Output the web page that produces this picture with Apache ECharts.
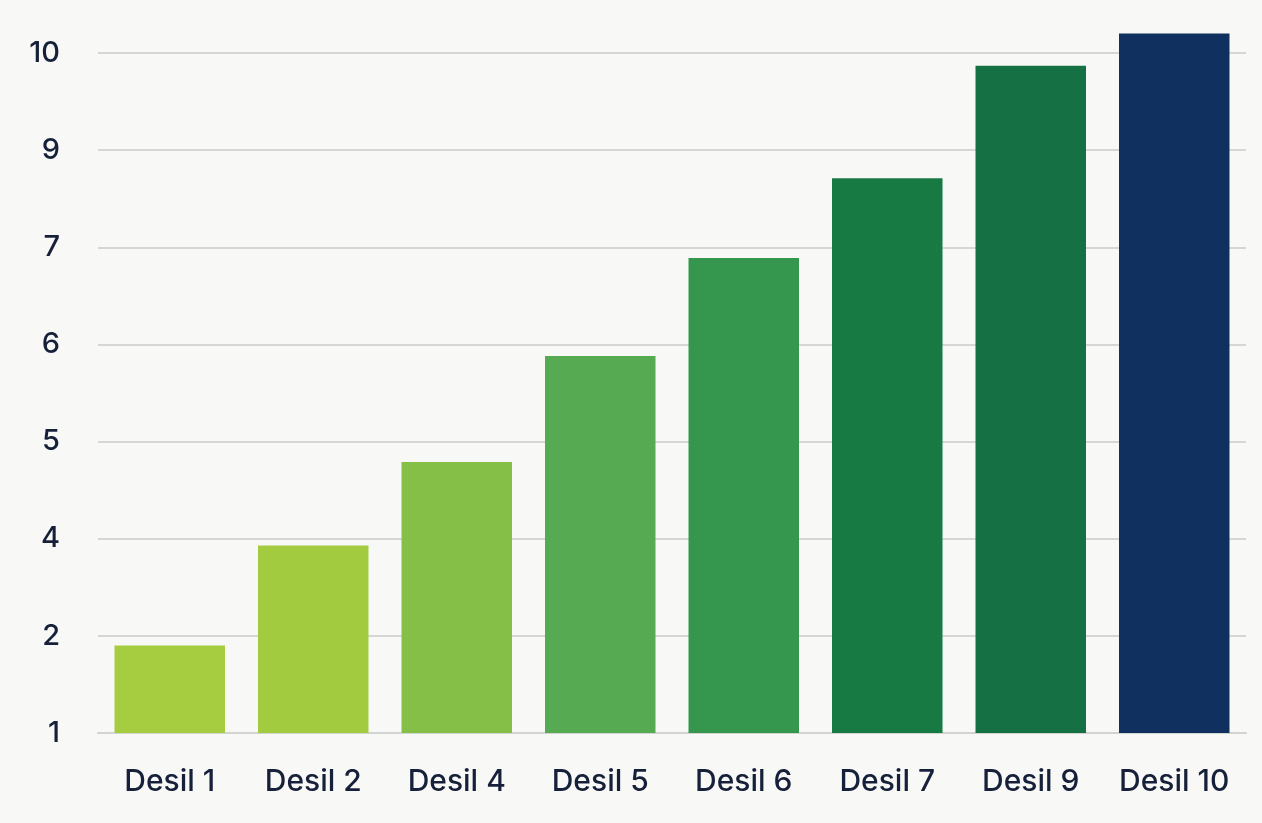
<!DOCTYPE html>
<html>
<head>
<meta charset="utf-8">
<script src="https://cdn.jsdelivr.net/npm/echarts@6/dist/echarts.min.js"></script>
<style>
html,body{margin:0;padding:0;background:#f8f9f6;}
#chart{width:1262px;height:823px;}
</style>
</head>
<body>
<div id="chart"></div>
<script>
// Categories on the x axis
const categories = ['Desil 1', 'Desil 2', 'Desil 4', 'Desil 5', 'Desil 6', 'Desil 7', 'Desil 9', 'Desil 10'];
// Y-axis tick labels as printed (evenly spaced gridlines)
const yTickLabels = ['1', '2', '4', '5', '6', '7', '9', '10'];
// Bar heights, measured in gridline steps above the baseline
const barLevels = [0.90, 1.93, 2.79, 3.88, 4.89, 5.71, 6.87, 7.20];
// Bar colours
const barColors = ['#a6cd40', '#a3cb40', '#86bf48', '#55aa52', '#35974e', '#177a42', '#157044', '#10305f'];

const chart = echarts.init(document.getElementById('chart'));
chart.setOption({
  backgroundColor: '#f8f9f6',
  animation: false,
  grid: { left: 98, right: 16, top: 53, bottom: 90, containLabel: false },
  xAxis: {
    type: 'category',
    data: categories,
    axisLine: { show: true, lineStyle: { color: '#d2d4d2', width: 2 } },
    axisTick: { show: false },
    axisLabel: { interval: 0, color: '#17203a', fontSize: 30, fontWeight: 500, fontFamily: 'Inter, Liberation Sans, Arial, sans-serif', margin: 34 }
  },
  yAxis: {
    type: 'value',
    min: 0,
    max: 7,
    interval: 1,
    axisLine: { show: false },
    axisTick: { show: false },
    splitLine: { show: true, lineStyle: { color: '#d6d7d5', width: 2 } },
    axisLabel: {
      color: '#17203a', fontSize: 29, fontWeight: 500, fontFamily: 'Inter, Liberation Sans, Arial, sans-serif', margin: 38,
      formatter: function (v) { return yTickLabels[Math.round(v)] ?? ''; }
    }
  },
  series: [{
    type: 'bar',
    clip: false,
    barCategoryGap: '23%',
    data: barLevels.map((v, i) => ({ value: v, itemStyle: { color: barColors[i] } }))
  }]
});
</script>
</body>
</html>
